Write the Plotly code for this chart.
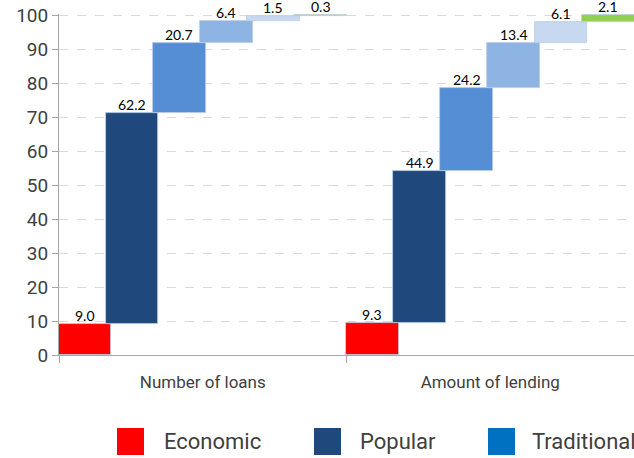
import plotly.graph_objects as go

categories = ["Number of loans", "Amount of lending"]
segments = ["Economic", "Popular", "Traditional", "Segment 4", "Segment 5", "Segment 6"]
loans = [9.0, 62.2, 20.7, 6.4, 1.5, 0.3]
lending = [9.3, 44.9, 24.2, 13.4, 6.1, 2.1]
colors = ["#FF0000", "#1F497D", "#558ED5", "#8EB4E3", "#C6D9F1", "#92D050"]
legend_names = ["Economic", "Popular", "Traditional"]
legend_colors = ["#FF0000", "#1F497D", "#0070C0"]

W, H = 634, 458
L, T, B = 59, 14, 103
Y_MAX = 100.3
plot_w = W - L
plot_h = H - T - B

# bar layout inside each category slot (slot width = 1 axis unit)
first_off, step, bar_w = 0.09, 0.164, 0.184

fig = go.Figure()
series = [loans, lending]
annotations = []
for j, name in enumerate(segments):
    xs, ys, bases = [], [], []
    for i, vals in enumerate(series):
        xs.append(i + first_off + j * step)
        ys.append(vals[j])
        bases.append(sum(vals[:j]))
        # value label sitting on top of the bar
        annotations.append(dict(xref="x", yref="y", x=xs[-1], y=sum(vals[:j + 1]),
                                text=f"{vals[j]:.1f}", showarrow=False,
                                xanchor="center", yanchor="bottom", yshift=-2,
                                font=dict(family="Lato", size=14, color="#000000")))
    fig.add_trace(go.Bar(
        x=xs, y=ys, base=bases, width=bar_w, name=name,
        marker=dict(color=colors[j], line=dict(color="#B9CDE5", width=0.8)),
        showlegend=False, hoverinfo="y", cliponaxis=False,
    ))

# legend drawn by hand (large squares, cut off on the right like the original)
leg_sq = [117, 314, 488]
leg_txt = [162, 358, 530]
shapes = []
for k, nm in enumerate(legend_names):
    x0 = leg_sq[k]
    shapes.append(dict(type="rect", xref="paper", yref="paper",
                       x0=(x0 - L) / plot_w, x1=(x0 + 27 - L) / plot_w,
                       y0=(H - B - 455) / plot_h, y1=(H - B - 428) / plot_h,
                       fillcolor=legend_colors[k], line=dict(width=0)))
    annotations.append(dict(xref="paper", yref="paper",
                            x=(leg_txt[k] - L) / plot_w, y=(H - B - 441) / plot_h,
                            text=nm, showarrow=False, xanchor="left", yanchor="middle",
                            font=dict(family="Roboto", size=22, color="#404040")))

fig.update_layout(
    width=W, height=H,
    margin=dict(l=L, r=0, t=T, b=B),
    paper_bgcolor="white", plot_bgcolor="white",
    barmode="overlay", bargap=0,
    shapes=shapes, annotations=annotations,
    font=dict(family="Roboto", color="#404040"),
)
fig.update_xaxes(
    range=[0, 2], tickvals=[0.5, 1.5], ticktext=categories,
    ticks="", showgrid=False, zeroline=False,
    showline=True, linecolor="#A6A6A6", linewidth=1,
    ticklabelstandoff=12,
    tickfont=dict(family="Roboto", size=17, color="#404040"),
    minor=dict(tickvals=[0, 1, 2], ticks="outside", ticklen=7, tickcolor="#A6A6A6", showgrid=False),
)
fig.update_yaxes(
    range=[0, Y_MAX], tickvals=list(range(0, 101, 10)), showgrid=True,
    gridcolor="#D9D9D9", griddash="dash", gridwidth=1,
    zeroline=False, showline=True, linecolor="#A6A6A6", linewidth=1,
    ticks="outside", ticklen=6, tickcolor="#A6A6A6",
    tickfont=dict(family="Roboto", size=19, color="#404040"),
)

fig.write_html("out.html", config={"displayModeBar": False},
               post_script="document.body.style.margin='0';")
